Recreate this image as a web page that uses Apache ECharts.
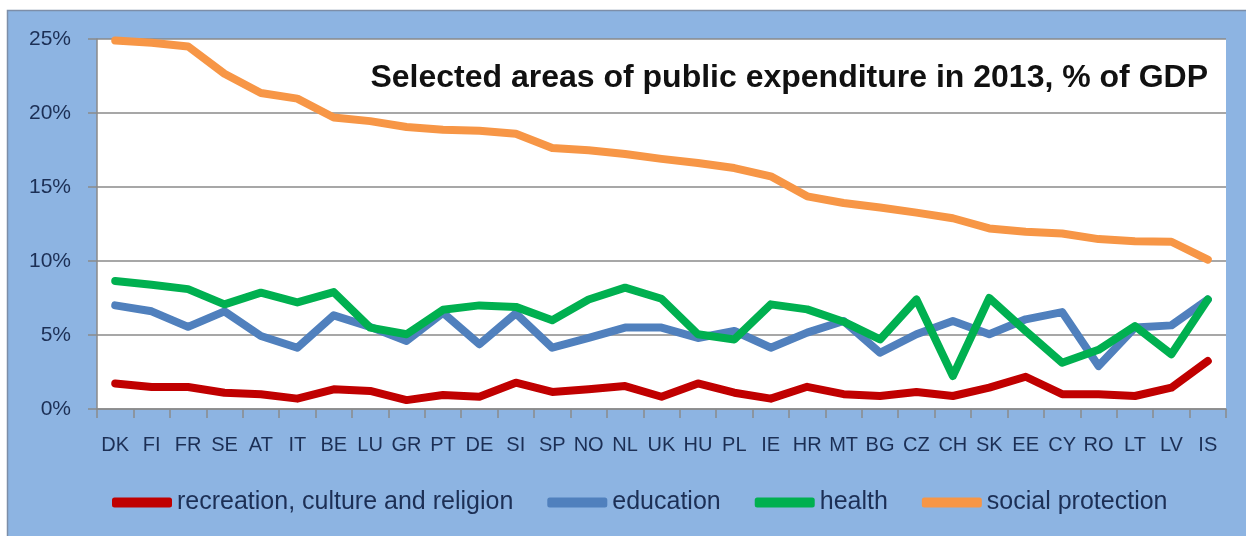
<!DOCTYPE html>
<html>
<head>
<meta charset="utf-8">
<script src="https://cdn.jsdelivr.net/npm/echarts@6/dist/echarts.min.js"></script>
<style>
  html, body { margin: 0; padding: 0; background: #fff; }
  #chart { width: 1246px; height: 536px; }
</style>
</head>
<body>
<div id="chart"></div>
<script>
// countries, sorted by social protection
var countries = ['DK','FI','FR','SE','AT','IT','BE','LU','GR','PT','DE','SI','SP','NO','NL','UK','HU','PL','IE','HR','MT','BG','CZ','CH','SK','EE','CY','RO','LT','LV','IS'];
// % of GDP
var recreation = [1.73,1.49,1.49,1.1,1.0,0.7,1.33,1.22,0.6,0.95,0.83,1.78,1.15,1.33,1.55,0.83,1.73,1.1,0.7,1.5,1.0,0.88,1.15,0.88,1.44,2.18,1.0,1.0,0.88,1.44,3.24];
var education = [7.0,6.6,5.55,6.6,4.93,4.14,6.33,5.55,4.6,6.5,4.37,6.46,4.14,4.8,5.5,5.5,4.8,5.27,4.14,5.16,5.95,3.8,5.05,5.95,5.05,6.06,6.55,2.9,5.5,5.65,7.4];
var health = [8.65,8.4,8.1,7.07,7.86,7.2,7.9,5.5,5.05,6.7,7.0,6.9,6.0,7.4,8.2,7.45,5.05,4.7,7.07,6.73,5.9,4.7,7.4,2.23,7.5,5.27,3.13,4.0,5.6,3.7,7.4];
var social = [24.9,24.75,24.5,22.65,21.35,20.97,19.7,19.45,19.05,18.87,18.8,18.6,17.64,17.48,17.23,16.9,16.62,16.28,15.72,14.37,13.92,13.62,13.27,12.89,12.2,11.98,11.86,11.48,11.34,11.3,10.09];
var seriesNames = ['recreation, culture and religion', 'education', 'health', 'social protection'];

var font = '"Liberation Sans", Arial, sans-serif';
var navy = '#1c2f55';

function line(name, data, color) {
    return {
        name: name,
        type: 'line',
        data: data,
        symbol: 'none',
        animation: false,
        lineStyle: { color: color, width: 8, cap: 'round', join: 'round' },
        itemStyle: { color: color }
    };
}

var chart = echarts.init(document.getElementById('chart'));
chart.setOption({
    backgroundColor: '#fff',
    textStyle: { fontFamily: font },
    graphic: [{
        type: 'rect',
        z: -10,
        shape: { x: 7.5, y: 10.5, width: 1250, height: 540 },
        style: { fill: '#8db4e2', stroke: '#7d8ea8', lineWidth: 1.5 }
    }],
    title: {
        text: 'Selected areas of public expenditure in 2013, % of GDP',
        right: 33,
        top: 57,
        textStyle: { fontFamily: font, fontSize: 32, fontWeight: 'bold', color: '#111' }
    },
    grid: {
        left: 97, right: 20, top: 39, bottom: 127,
        show: true, backgroundColor: '#fff', borderWidth: 0
    },
    legend: {
        data: seriesNames,
        left: 107,
        top: 485,
        icon: 'roundRect',
        itemWidth: 60,
        itemHeight: 10,
        itemGap: 34,
        textStyle: { fontFamily: font, fontSize: 25, color: navy }
    },
    xAxis: {
        type: 'category',
        data: countries,
        boundaryGap: true,
        axisLine: { lineStyle: { color: '#8a8a8a', width: 1.5 } },
        axisTick: { show: true, length: 9, lineStyle: { color: '#8a8a8a', width: 1.5 } },
        axisLabel: { interval: 0, margin: 26, fontSize: 20, color: navy }
    },
    yAxis: {
        type: 'value',
        min: 0, max: 25, interval: 5,
        axisLine: { show: true, lineStyle: { color: '#8a8a8a', width: 1.5 } },
        axisTick: { show: true, length: 9, lineStyle: { color: '#8a8a8a', width: 1.5 } },
        axisLabel: { formatter: '{value}%', margin: 26, fontSize: 21, color: navy },
        splitLine: { lineStyle: { color: '#8a8a8a', width: 1.5 } }
    },
    series: [
        line(seriesNames[0], recreation, '#c00000'),
        line(seriesNames[1], education, '#5080bd'),
        line(seriesNames[2], health, '#00b050'),
        line(seriesNames[3], social, '#f79646')
    ]
});
</script>
</body>
</html>
